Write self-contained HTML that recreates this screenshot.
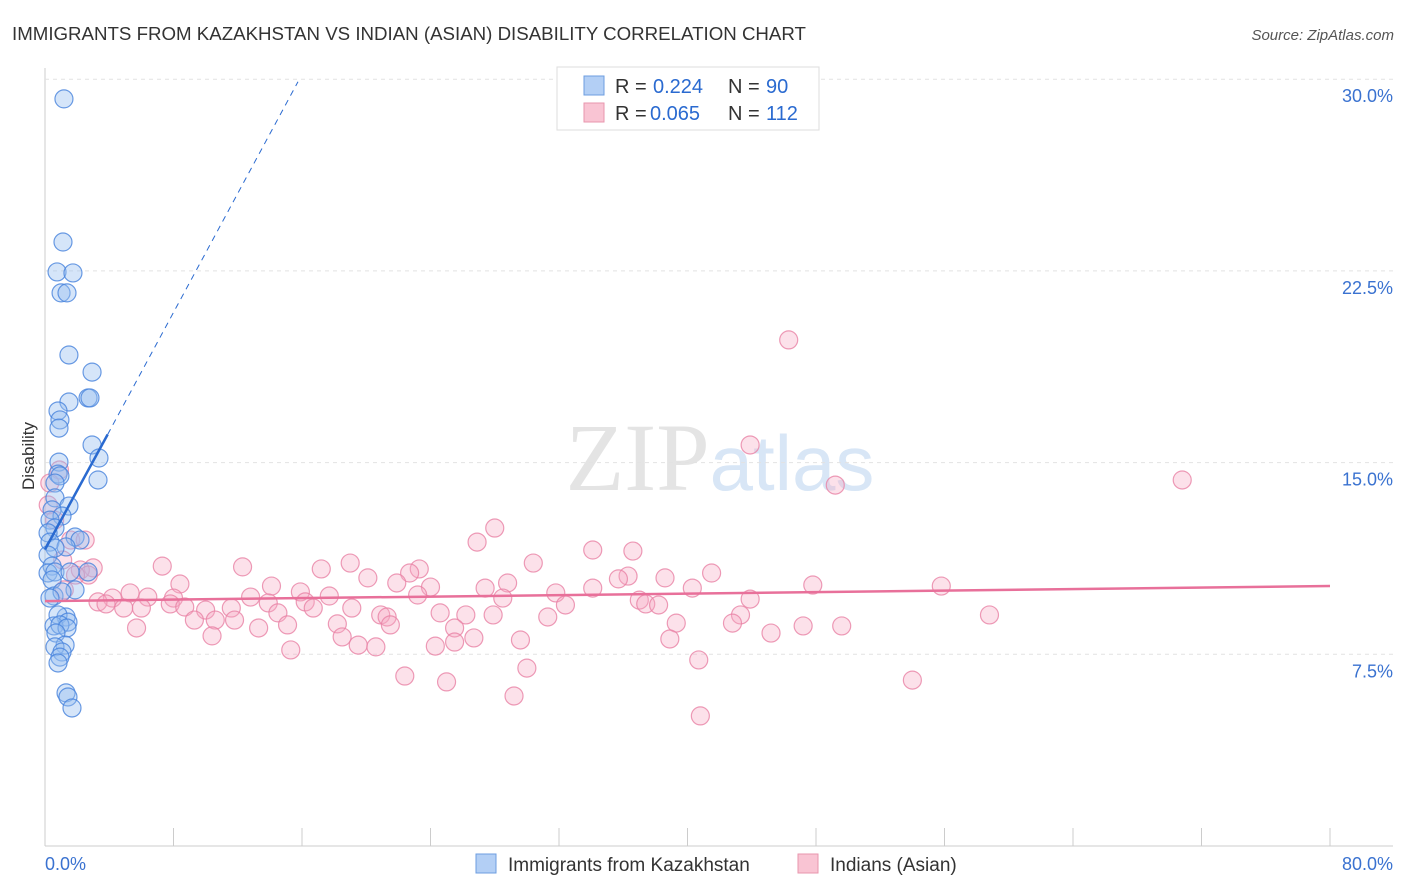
<!DOCTYPE html>
<html><head><meta charset="utf-8"><style>
body{margin:0;background:#fff;font-family:"Liberation Sans",sans-serif}
</style></head><body>
<svg id="chart" width="1406" height="892" xmlns="http://www.w3.org/2000/svg" style="display:block">
<text x="12" y="40" font-size="18.7" fill="#333">IMMIGRANTS FROM KAZAKHSTAN VS INDIAN (ASIAN) DISABILITY CORRELATION CHART</text>
<text x="1394" y="40" font-size="15" fill="#555" text-anchor="end" font-style="italic">Source: ZipAtlas.com</text>
<text x="720" y="490" font-size="96" text-anchor="middle" fill="#e4e4e4" font-family="Liberation Serif">ZIP<tspan fill="#d8e6f6" font-family="Liberation Sans" font-size="78">atlas</tspan></text>
<text transform="translate(34,456) rotate(-90)" font-size="17" fill="#333" text-anchor="middle">Disability</text>
<g id="grid"></g><g id="ticks"></g><g id="pts"></g><g id="lines"></g>
<g>
<rect x="557" y="67" width="262" height="63" fill="#fff" stroke="#ddd"/>
<rect x="584" y="76" width="20" height="19" fill="#b3cff5" stroke="#6d9ee0"/>
<rect x="584" y="103" width="20" height="19" fill="#f9c4d3" stroke="#e896ae"/>
<text x="615" y="93" font-size="20" fill="#333">R =</text>
<text x="653" y="93" font-size="20" fill="#2a6ad0">0.224</text>
<text x="728" y="93" font-size="20" fill="#333">N =</text>
<text x="766" y="93" font-size="20" fill="#2a6ad0">90</text>
<text x="615" y="120" font-size="20" fill="#333">R =</text>
<text x="650" y="120" font-size="20" fill="#2a6ad0">0.065</text>
<text x="728" y="120" font-size="20" fill="#333">N =</text>
<text x="766" y="120" font-size="20" fill="#2a6ad0">112</text>
</g>
<g>
<rect x="476" y="854" width="20" height="19" fill="#b3cff5" stroke="#6d9ee0"/>
<text x="508" y="871" font-size="19" fill="#333">Immigrants from Kazakhstan</text>
<rect x="798" y="854" width="20" height="19" fill="#f9c4d3" stroke="#e896ae"/>
<text x="830" y="871" font-size="19" fill="#333">Indians (Asian)</text>
</g>
</svg>
<script>
const xTicks=[0,80];
const yTicks=[7.5,15,22.5,30];
const blueX=[1.18,1.12,0.75,1.74,1.0,1.37,1.49,2.93,2.68,2.8,1.49,0.81,0.93,0.87,2.93,3.36,0.87,0.81,0.93,3.3,0.62,0.62,1.49,0.44,1.06,0.31,0.62,0.19,1.87,0.31,2.18,1.31,0.62,0.19,0.44,0.19,0.62,1.56,2.68,0.44,1.87,0.56,1.06,0.31,1.31,0.81,1.43,0.56,0.93,1.37,0.68,1.25,0.62,1.06,0.93,0.81,1.31,1.43,1.68];
const blueY=[29.23,23.63,22.46,22.42,21.64,21.64,19.21,18.54,17.53,17.53,17.37,17.02,16.67,16.35,15.69,15.18,15.02,14.55,14.48,14.32,14.20,13.62,13.30,13.15,12.91,12.75,12.44,12.25,12.09,11.89,11.97,11.70,11.66,11.38,10.95,10.68,10.72,10.72,10.72,10.41,10.02,9.78,9.94,9.70,8.96,9.04,8.76,8.61,8.65,8.53,8.33,7.86,7.79,7.59,7.39,7.16,5.99,5.83,5.40];
const pinkX=[46.3,43.9,49.2,70.8,28,26.9,34.1,36.6,30.4,19,7.3,12.3,17.2,23.3,22.7,41.5,36.3,35.7,38.6,20.1,3.0,2.2,2.7,8.4,14.1,24,28.8,27.4,21.9,34.1,40.3,47.8,55.8,5.3,31.8,23.2,28.5,43.9,6.4,8,12.8,17.7,15.9,4.2,3.3,3.8,7.8,8.7,11.6,13.9,16.2,16.7,19.1,37,37.4,38.2,32.4,4.9,6,10,14.5,20.9,21.3,24.6,26.2,27.9,31.3,43.3,58.8,9.3,10.6,11.8,15.1,18.2,21.5,42.8,39.3,5.7,13.3,25.5,47.2,49.6,10.4,18.5,26.7,29.6,38.9,45.2,19.5,20.6,15.3,24.3,25.5,30,40.7,22.4,25,29.2,54,40.8,0.9,0.3,0.2,0.6,1.1,1.6,2.5,1.9,1.2];
const pinkY=[19.80,15.69,14.12,14.32,12.44,11.89,11.58,11.54,11.07,11.07,10.95,10.92,10.84,10.84,10.68,10.68,10.56,10.45,10.49,10.49,10.88,10.80,10.60,10.25,10.17,10.13,10.29,10.09,10.29,10.09,10.09,10.21,10.17,9.90,9.90,9.82,9.70,9.66,9.74,9.70,9.74,9.78,9.94,9.70,9.55,9.47,9.47,9.35,9.31,9.51,9.55,9.31,9.31,9.62,9.47,9.43,9.43,9.31,9.31,9.23,9.12,9.04,8.96,9.12,9.04,9.04,8.96,9.04,9.04,8.84,8.84,8.84,8.65,8.69,8.65,8.72,8.72,8.53,8.53,8.53,8.61,8.61,8.22,8.18,8.14,8.06,8.10,8.33,7.86,7.79,7.67,7.82,7.98,6.96,7.28,6.65,6.42,5.87,6.49,5.09,14.71,14.20,13.34,12.75,11.19,11.97,11.97,10.60,10.02];
const blueLine=[0,11.6,3.9,16.1,15.75,29.9];
const pinkLine=[0,9.58,80,10.17];
const X=v=>45+v/80*1285, Y=v=>846-v*25.56;
const NS='http://www.w3.org/2000/svg';
function mk(t,a,p){const e=document.createElementNS(NS,t);for(const k in a)e.setAttribute(k,a[k]);document.getElementById(p).appendChild(e);return e;}
let ax=mk('line',{x1:45,y1:68,x2:45,y2:846,stroke:'#ccc'},'grid');

let bx=mk('line',{x1:45,y1:846,x2:1393,y2:846,stroke:'#ccc'},'grid');

yTicks.forEach(v=>{const g=mk('line',{x1:45,y1:Y(v),x2:1393,y2:Y(v),stroke:'#e2e2e2','stroke-dasharray':'4,4'},'grid');

const t=mk('text',{x:1393,y:Y(v)+23,'font-size':18,fill:'#3a72d0','text-anchor':'end'},'ticks');t.textContent=v.toFixed(1)+'%';
});
for(let i=0;i<=10;i++){const x=X(i*8);const l=mk('line',{x1:x,y1:828,x2:x,y2:846,stroke:'#ccc'},'ticks');
}
xTicks.forEach((v,i)=>{const t=mk('text',{x:i?1393:45,y:870,'font-size':18,fill:'#3a72d0','text-anchor':i?'end':'start'},'ticks');t.textContent=v.toFixed(1)+'%';
});
pinkX.forEach((v,i)=>{const c=mk('circle',{cx:X(v),cy:Y(pinkY[i]),r:9,fill:'rgba(246,170,195,0.35)',stroke:'rgba(232,130,165,0.8)','stroke-width':1.2},'pts');
});
blueX.forEach((v,i)=>{const c=mk('circle',{cx:X(v),cy:Y(blueY[i]),r:9,fill:'rgba(150,190,240,0.4)',stroke:'rgba(70,130,220,0.8)','stroke-width':1.2},'pts');
});
let l1=mk('line',{x1:X(blueLine[0]),y1:Y(blueLine[1]),x2:X(blueLine[2]),y2:Y(blueLine[3]),stroke:'#2a6ad0','stroke-width':2.5},'lines');

let l2=mk('line',{x1:X(blueLine[2]),y1:Y(blueLine[3]),x2:X(blueLine[4]),y2:Y(blueLine[5]),stroke:'#2a6ad0','stroke-width':1,'stroke-dasharray':'6,5'},'lines');

let l3=mk('line',{x1:X(pinkLine[0]),y1:Y(pinkLine[1]),x2:X(pinkLine[2]),y2:Y(pinkLine[3]),stroke:'#e8709a','stroke-width':2.5},'lines');

</script>
</body></html>
